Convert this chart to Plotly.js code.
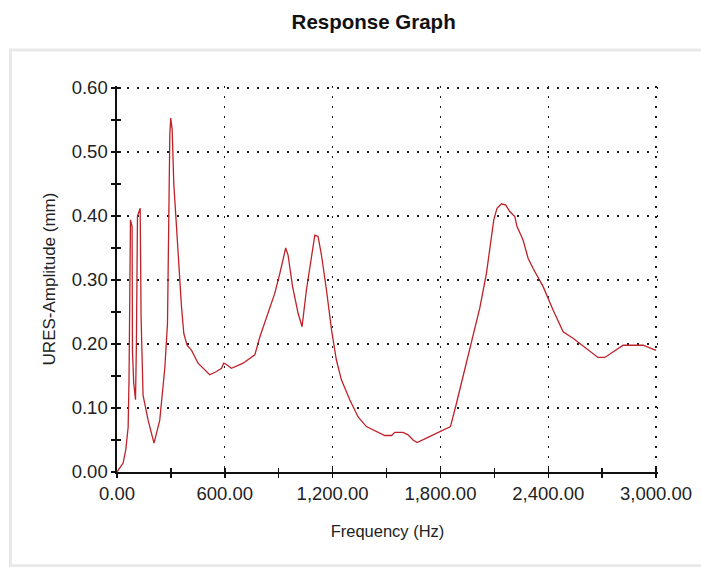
<!DOCTYPE html>
<html>
<head>
<meta charset="utf-8">
<script src="https://cdn.plot.ly/plotly-3.0.1.min.js"></script>
<style>
html,body{margin:0;padding:0;background:#fff;}
#chart{width:701px;height:567px;}
</style>
</head>
<body>
<div id="chart"></div>
<script>
// Frequency (Hz)
const freq = [0,34,49,62,67,72,75,80,84,86,93,103,108,114,120,129,134,140,145,173,206,238,266,281,284,294,299,307,316,331,344,359,372,390,415,451,516,554,582,594,609,637,702,767,795,832,878,906,939,952,977,1008,1030,1054,1082,1101,1119,1138,1166,1194,1221,1249,1296,1342,1388,1444,1490,1528,1546,1592,1620,1648,1670,1722,1796,1856,1889,1926,1973,2019,2056,2078,2097,2115,2140,2164,2186,2214,2227,2260,2288,2316,2371,2427,2483,2538,2613,2677,2715,2761,2817,2928,2965,3000];
// URES amplitude (mm)
const amp = [0,0.014,0.035,0.07,0.146,0.39,0.394,0.388,0.383,0.19,0.139,0.113,0.20,0.40,0.404,0.412,0.243,0.159,0.12,0.081,0.045,0.081,0.162,0.232,0.329,0.527,0.553,0.535,0.451,0.383,0.321,0.258,0.216,0.198,0.19,0.17,0.152,0.157,0.162,0.170,0.168,0.162,0.17,0.183,0.211,0.24,0.279,0.31,0.35,0.339,0.29,0.248,0.227,0.284,0.336,0.370,0.368,0.339,0.284,0.222,0.175,0.144,0.1125,0.086,0.071,0.063,0.057,0.057,0.062,0.062,0.058,0.05,0.046,0.053,0.063,0.071,0.107,0.149,0.201,0.256,0.31,0.352,0.394,0.412,0.419,0.417,0.407,0.399,0.383,0.3625,0.334,0.318,0.29,0.253,0.219,0.209,0.193,0.179,0.179,0.187,0.198,0.198,0.194,0.19];

const titleText = "Response Graph";
const xTitle = "Frequency (Hz)";
const yTitle = "URES-Amplitude (mm)";
// ranges padded a hair past the last tick so the edge grid lines (0.60 / 3,000) are drawn
const xRange = [0, 3011];
const yRange = [0, 0.6031];

const FONT = "'Liberation Sans', Arial, sans-serif";

const traces = [
  {x: freq, y: amp, type: 'scatter', mode: 'lines', line: {color: '#be2228', width: 1.3}, hoverinfo: 'x+y'},
  {x: freq, y: amp, type: 'scatter', mode: 'lines', xaxis: 'x2', yaxis: 'y', opacity: 0, hoverinfo: 'skip', showlegend: false},
  {x: freq, y: amp, type: 'scatter', mode: 'lines', xaxis: 'x', yaxis: 'y2', opacity: 0, hoverinfo: 'skip', showlegend: false}
];

const gridCommon = {showgrid: true, gridcolor: '#1a1a1a', gridwidth: 1.2, griddash: '1.5px,8.5px'};

const layout = {
  width: 701, height: 567,
  margin: {l: 117, r: 43, t: 86, b: 95},
  paper_bgcolor: '#ffffff', plot_bgcolor: '#ffffff',
  showlegend: false,
  font: {family: FONT, color: '#222', size: 18},
  title: {text: '<b>' + titleText + '</b>', x: 0.533, xanchor: 'center', y: 0.962, yanchor: 'middle', yref: 'container',
          font: {family: FONT, size: 20.5, color: '#111'}},
  xaxis: Object.assign({
    range: xRange, dtick: 600, tick0: 0, tickformat: ',.2f',
    showline: true, linecolor: '#111', linewidth: 1.6,
    ticks: 'outside', ticklen: 4, tickwidth: 1.4, tickcolor: '#111',
    minor: {dtick: 300, ticks: 'outside', ticklen: 4, tickwidth: 1.4, tickcolor: '#111', showgrid: false},
    zeroline: false, fixedrange: true, ticklabelstandoff: 0,
    tickfont: {family: FONT, size: 18.5, color: '#222'},
    title: {text: xTitle, standoff: 22, font: {family: FONT, size: 16.5, color: '#222'}}
  }, gridCommon),
  yaxis: Object.assign({
    range: yRange, dtick: 0.1, tick0: 0, tickformat: '.2f',
    showline: true, linecolor: '#111', linewidth: 1.6,
    ticks: 'outside', ticklen: 4, tickwidth: 1.4, tickcolor: '#111',
    minor: {dtick: 0.05, ticks: 'outside', ticklen: 4, tickwidth: 1.4, tickcolor: '#111', showgrid: false},
    zeroline: false, fixedrange: true, ticklabelstandoff: 0,
    tickfont: {family: FONT, size: 18.5, color: '#222'},
    title: {text: yTitle, standoff: 12, font: {family: FONT, size: 17, color: '#222'}}
  }, gridCommon),
  xaxis2: {
    overlaying: 'x', anchor: 'y', side: 'bottom', range: xRange, dtick: 600, tick0: 0,
    showgrid: false, zeroline: false, showline: false, showticklabels: false,
    ticks: 'inside', ticklen: 4, tickwidth: 1.4, tickcolor: '#111',
    minor: {dtick: 300, ticks: 'inside', ticklen: 4, tickwidth: 1.4, tickcolor: '#111', showgrid: false},
    fixedrange: true
  },
  yaxis2: {
    overlaying: 'y', anchor: 'x', side: 'left', range: yRange, dtick: 0.1, tick0: 0,
    showgrid: false, zeroline: false, showline: false, showticklabels: false,
    ticks: 'inside', ticklen: 4, tickwidth: 1.4, tickcolor: '#111',
    minor: {dtick: 0.05, ticks: 'inside', ticklen: 4, tickwidth: 1.4, tickcolor: '#111', showgrid: false},
    fixedrange: true
  },
  shapes: [
    {type: 'rect', xref: 'paper', yref: 'paper', x0: -0.197, x1: 1.1, y0: -0.243, y1: 1.093,
     line: {color: '#e8e8e8', width: 3}, fillcolor: 'rgba(0,0,0,0)', layer: 'below'}
  ]
};

Plotly.newPlot('chart', traces, layout, {displayModeBar: false, staticPlot: true});
</script>
</body>
</html>
